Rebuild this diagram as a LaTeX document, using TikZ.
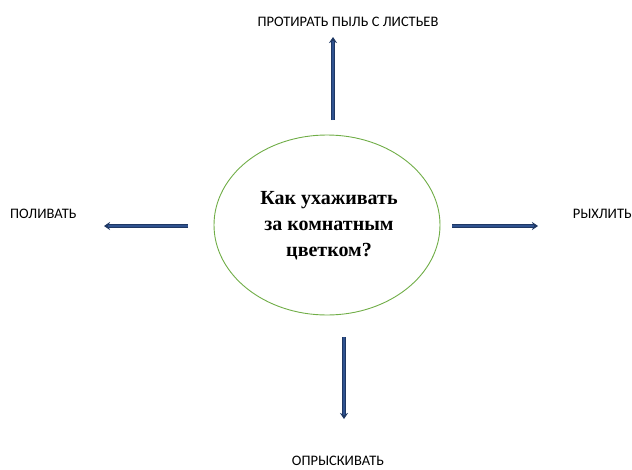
\documentclass[tikz,border=0pt]{standalone}
\usepackage{fontspec}
\setmainfont{Carlito}
\newfontfamily\serifb{Liberation Serif}
\usetikzlibrary{arrows.meta,shapes.geometric}
\definecolor{arrowblue}{RGB}{47,82,143}
\definecolor{arrowdark}{RGB}{31,56,100}
\definecolor{ellgreen}{RGB}{112,173,71}
\tikzset{
  lbl/.style={font=\fontsize{14.5}{16}\selectfont, inner sep=0pt},
  arr/.style={draw=arrowdark, line width=3.2pt, -{Stealth[length=6pt,width=8pt]}},
  arrin/.style={draw=arrowblue, line width=1.6pt, shorten >=4pt},
}
\begin{document}
\begin{tikzpicture}[x=1pt,y=-1pt]
\useasboundingbox (0,0) rectangle (632,469);
\node[draw=ellgreen, line width=0.9pt, ellipse, minimum width=226pt, minimum height=180pt, inner sep=0pt] (c) at (327,225) {};
\node[font=\serifb\bfseries\fontsize{20}{26}\selectfont, align=center] (t) at (329,226) {Как ухаживать\\за комнатным\\цветком?};
\node[lbl] (top) at (348,22) {ПРОТИРАТЬ ПЫЛЬ С ЛИСТЬЕВ};
\node[lbl, anchor=west] (left) at (10,214) {ПОЛИВАТЬ};
\node[lbl, anchor=east] (right) at (632,214) {РЫХЛИТЬ};
\node[lbl] (bot) at (338,461) {ОПРЫСКИВАТЬ};
\coordinate (u1) at (333,120); \coordinate (u2) at (333,37);
\coordinate (r1) at (452,226); \coordinate (r2) at (538,226);
\coordinate (l1) at (188,226); \coordinate (l2) at (104,226);
\coordinate (d1) at (344,337); \coordinate (d2) at (344,419);
\foreach \a/\b in {u1/u2,r1/r2,l1/l2,d1/d2}{
  \draw[arr] (\a) -- (\b);
  \draw[arrin] (\a) -- (\b);
}
\end{tikzpicture}
\end{document}
